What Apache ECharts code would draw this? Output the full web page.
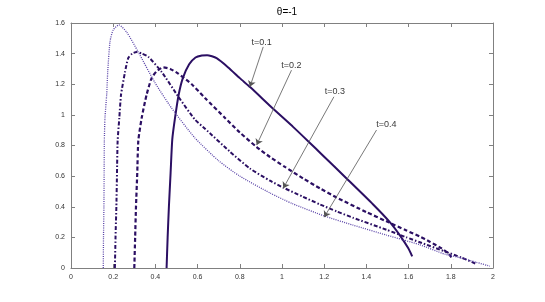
<!DOCTYPE html>
<html>
<head>
<meta charset="utf-8">
<script src="https://cdn.jsdelivr.net/npm/echarts@6/dist/echarts.min.js"></script>
<style>html,body{margin:0;padding:0;background:#fff}#c{width:545px;height:302px}</style>
</head>
<body>
<div id="c"></div>
<script>
// Curve t=0.1 (solid)
var x1 = [0.453,0.458,0.464,0.472,0.48,0.493,0.51,0.53,0.56,0.59,0.62,0.645,0.69,0.745,0.80,0.85,0.958,1.05,1.13,1.19,1.306,1.432,1.511,1.558,1.598,1.617];
var y1 = [0,0.2,0.4,0.62,0.84,0.98,1.13,1.24,1.33,1.375,1.388,1.39,1.37,1.31,1.24,1.18,1.04,0.925,0.82,0.74,0.585,0.415,0.30,0.215,0.13,0.076];
// Curve t=0.2 (dashed)
var x2 = [0.30,0.304,0.308,0.314,0.319,0.335,0.358,0.382,0.406,0.437,0.47,0.508,0.572,0.635,0.73,0.80,0.88,0.943,1.014,1.10,1.18,1.259,1.40,1.495,1.59,1.653,1.70,1.748,1.785,1.811];
var y2 = [0,0.2,0.4,0.62,0.83,0.98,1.13,1.24,1.285,1.31,1.30,1.27,1.20,1.11,0.98,0.885,0.79,0.725,0.66,0.585,0.52,0.46,0.365,0.305,0.245,0.205,0.172,0.135,0.10,0.054];
// Curve t=0.3 (dash-dot)
var x3 = [0.208,0.211,0.215,0.218,0.221,0.229,0.237,0.256,0.271,0.29,0.311,0.336,0.366,0.43,0.508,0.587,0.635,0.753,0.848,0.943,1.006,1.10,1.18,1.259,1.337,1.495,1.59,1.653,1.772,1.85,1.922];
var y3 = [0,0.2,0.4,0.62,0.83,0.98,1.13,1.28,1.37,1.40,1.41,1.40,1.38,1.28,1.12,0.97,0.91,0.76,0.65,0.57,0.525,0.465,0.415,0.37,0.328,0.25,0.20,0.168,0.108,0.068,0.026];
// Curve t=0.4 (dotted)
var x4 = [0.153,0.154,0.156,0.157,0.158,0.161,0.169,0.174,0.185,0.20,0.227,0.264,0.319,0.398,0.477,0.587,0.70,0.80,0.943,1.05,1.2,1.337,1.495,1.574,1.653,1.772,1.85,1.92,1.985];
var y4 = [0,0.2,0.4,0.62,0.83,0.98,1.13,1.28,1.48,1.555,1.587,1.54,1.41,1.21,1.044,0.85,0.70,0.60,0.49,0.42,0.34,0.28,0.215,0.184,0.152,0.09,0.065,0.038,0.012];

var seriesNames = ['t=0.1','t=0.2','t=0.3','t=0.4'];
// Annotation arrows: start (near text) -> tip (on curve), and text anchor
var arrowFromX = [0.911,1.045,1.246,1.448];
var arrowFromY = [1.444,1.292,1.118,0.901];
var arrowToX = [0.848,0.88,1.006,1.2];
var arrowToY = [1.183,0.803,0.521,0.332];
var textX = [0.903,1.045,1.251,1.495];
var textY = [1.472,1.324,1.15,0.934];

var xTicks = [0,0.2,0.4,0.6,0.8,1,1.2,1.4,1.6,1.8,2];
var yTicks = [0,0.2,0.4,0.6,0.8,1,1.2,1.4,1.6];

function pairs(xs, ys){ return xs.map(function(x,i){ return [x, ys[i]]; }); }

var chart = echarts.init(document.getElementById('c'), null, {renderer:'canvas'});
var lineColor = '#2b0f63';
var styles = [
  {type:'solid', width:2, color:lineColor},
  {type:[4,2.5], width:2.2, color:lineColor},
  {type:[4,2,1.5,2], width:2, color:lineColor},
  {type:[1,1.2], width:1.3, color:'#5a44a8'}
];
var fmt = function(v){ return String(+(+v).toFixed(1)); };
var axisCommonX = {
  type:'value', min:xTicks[0], max:xTicks[xTicks.length-1], interval:0.2,
  axisLine:{show:true, onZero:false, lineStyle:{color:'#808080', width:1}},
  axisTick:{show:true, inside:true, length:4, lineStyle:{color:'#808080'}},
  splitLine:{show:false}
};
var axisCommonY = {
  type:'value', min:yTicks[0], max:yTicks[yTicks.length-1], interval:0.2,
  axisLine:{show:true, onZero:false, lineStyle:{color:'#808080', width:1}},
  axisTick:{show:true, inside:true, length:4, lineStyle:{color:'#808080'}},
  splitLine:{show:false}
};
var series = [];
[pairs(x1,y1), pairs(x2,y2), pairs(x3,y3), pairs(x4,y4)].forEach(function(d, i){
  series.push({
    name: seriesNames[i], type:'line', data:d, showSymbol:false, symbol:'none',
    smooth:0.2, lineStyle:styles[i], z:3, silent:true
  });
});
series.push({
  type:'lines', coordinateSystem:'cartesian2d', silent:true, z:4,
  symbol:['none','arrow'], symbolSize:[0,6],
  lineStyle:{color:'#555', width:0.8, opacity:1, curveness:0},
  data: arrowFromX.map(function(x,i){ return {coords:[[x, arrowFromY[i]],[arrowToX[i], arrowToY[i]]]}; })
});
series.push({
  type:'scatter', symbolSize:0, silent:true, z:5,
  label:{show:true, position:'inside', formatter:function(p){ return seriesNames[p.dataIndex]; },
         color:'#000', fontSize:9, fontFamily:'Liberation Sans'},
  data: pairs(textX, textY)
});

chart.setOption({
  animation:false,
  backgroundColor:'#fff',
  title:{text:'θ=-1', left:282, top:2, textAlign:'center',
         textStyle:{fontSize:10, fontWeight:'normal', color:'#000', fontFamily:'Liberation Sans'}},
  grid:{left:71, right:52, top:23, bottom:34, containLabel:false},
  xAxis:[
    Object.assign({}, axisCommonX, {position:'bottom',
      axisLabel:{show:true, fontSize:7, color:'#333', margin:6, fontFamily:'Liberation Sans', formatter:fmt}}),
    Object.assign({}, axisCommonX, {position:'top', axisLabel:{show:false}})
  ],
  yAxis:[
    Object.assign({}, axisCommonY, {position:'left',
      axisLabel:{show:true, fontSize:7, color:'#333', margin:6, fontFamily:'Liberation Sans', formatter:fmt}}),
    Object.assign({}, axisCommonY, {position:'right', axisLabel:{show:false}})
  ],
  series:series
});
</script>
</body>
</html>
